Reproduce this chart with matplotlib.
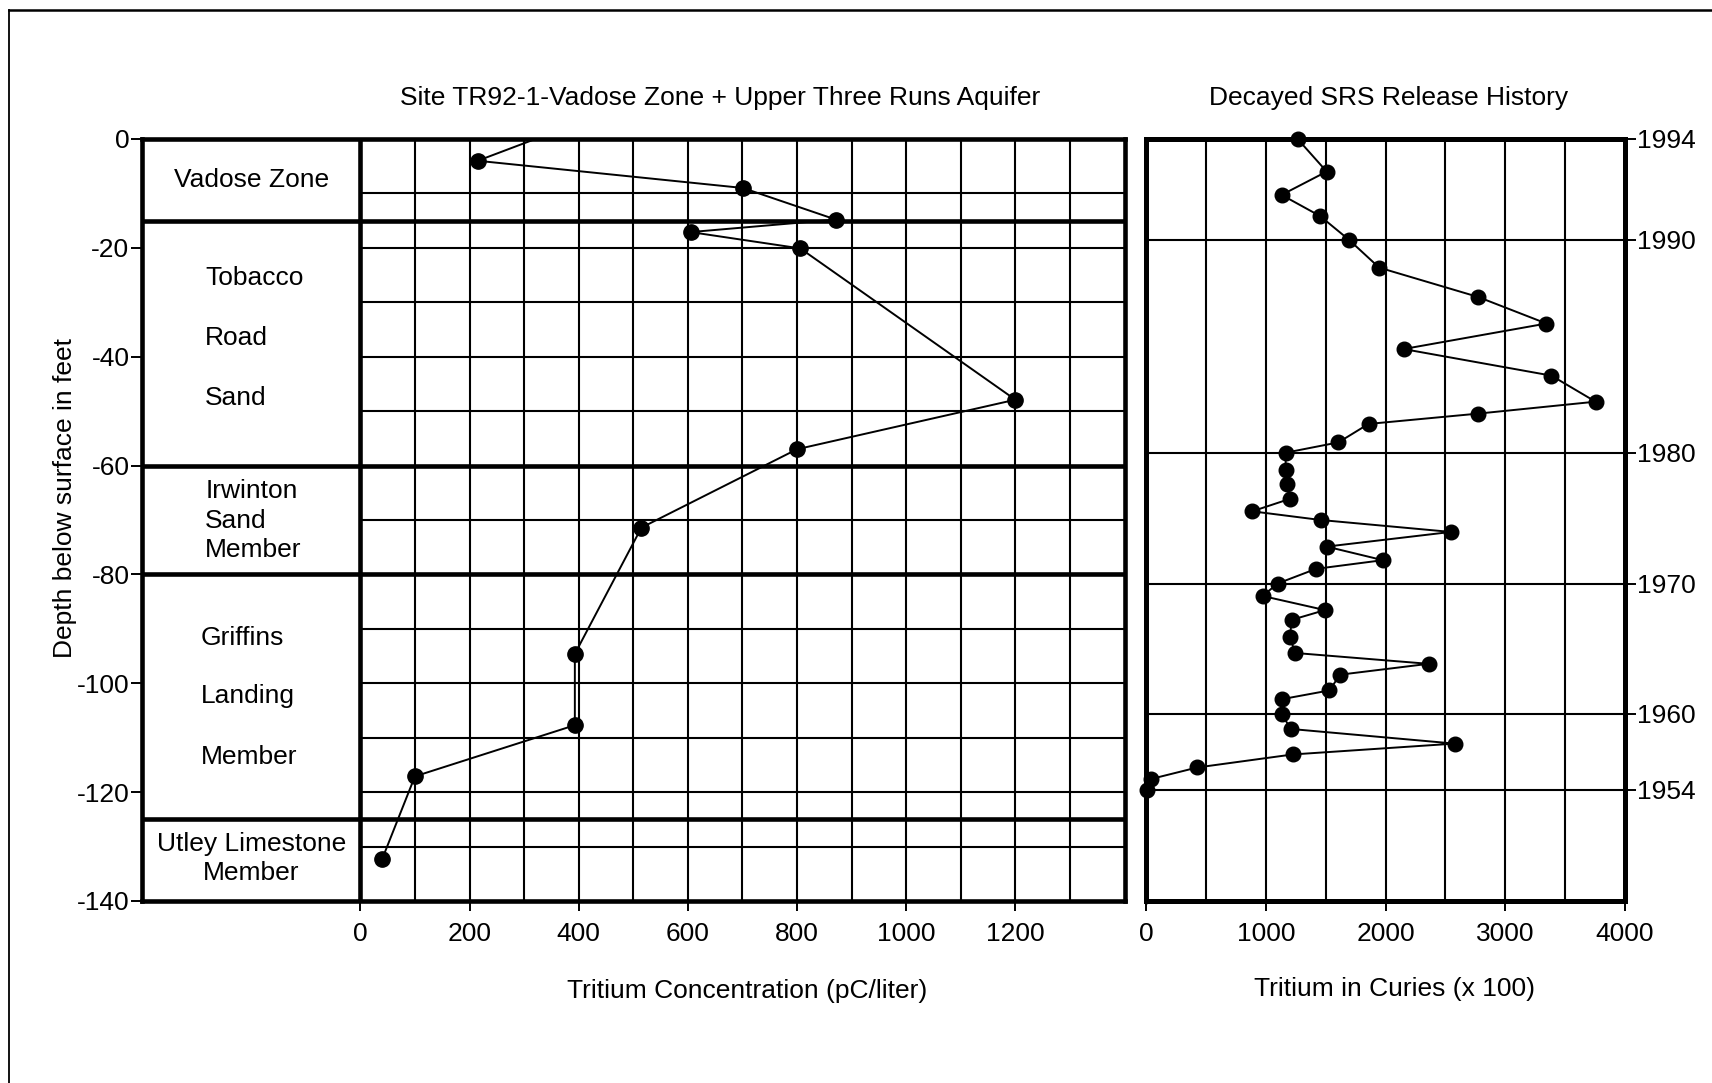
import numpy as np
import matplotlib.pyplot as plt
from matplotlib.lines import Line2D

plt.rcParams['font.family'] = ['Liberation Sans', 'DejaVu Sans']
plt.rcParams['axes.unicode_minus'] = False

#%% data
# site TR92-1 samples (first one lies above ground surface and is clipped)
conc_pc = [400, 215, 701, 871, 605, 806, 1200, 800, 515, 393, 393, 100, 40]
depth_ft = [3, -4.0, -9.0, -14.8, -17.1, -20.1, -47.9, -57.0, -71.4, -94.6, -107.7, -117.1, -132.3]

# formations: top / bottom depth of each unit
unit_tops = [0, -15, -60, -80, -125]
unit_bottoms = [-15, -60, -80, -125, -140]

# decayed SRS release history, one value per year, placed at equivalent depth
years = [1994, 1993, 1992, 1991, 1990, 1989, 1988, 1987, 1986, 1985, 1984, 1983,
         1982, 1981, 1980, 1979, 1978, 1977, 1976, 1975, 1974, 1973, 1972, 1971,
         1970, 1969, 1968, 1967, 1966, 1965, 1964, 1963, 1962, 1961, 1960, 1959,
         1958, 1957, 1956, 1955, 1954]
curies = [1265, 1508, 1131, 1453, 1696, 1947, 2774, 3346, 2151, 3388, 3757, 2774,
          1858, 1606, 1165, 1165, 1173, 1201, 885, 1458, 2547, 1508, 1978, 1419,
          1098, 972, 1494, 1215, 1201, 1243, 2360, 1620, 1531, 1137, 1131, 1207,
          2578, 1223, 425, 42, 8]
year_depth = [0.4, -5.6, -9.9, -13.8, -18.2, -23.3, -28.7, -33.6, -38.3, -43.2,
              -48.0, -50.2, -52.1, -55.5, -57.4, -60.5, -63.1, -65.9, -68.2, -69.8,
              -72.0, -74.7, -77.2, -78.8, -81.5, -83.8, -86.4, -88.2, -91.3, -94.3,
              -96.3, -98.3, -101.2, -102.8, -105.5, -108.3, -111.0, -113.0, -115.4,
              -117.5, -119.5]
year_labels = [1994, 1990, 1980, 1970, 1960, 1954]

#%%
W, H = 1712, 1083
fig = plt.figure(figsize=(W / 100, H / 100), dpi=100)

def box(x0, y0, x1, y1):
    return [x0 / W, 1 - y1 / H, (x1 - x0) / W, (y1 - y0) / H]

FS = 19

# ---------------- left panel: stratigraphy + concentration ----------------
ax = fig.add_axes(box(142, 139, 1124.5, 901))
ax.set_xlim(-400, 1400)
ax.set_ylim(-140, 0)

ax.hlines(np.arange(-10, -140, -10), 0, 1400, color='k', lw=1.5, zorder=1)
ax.vlines(np.arange(100, 1400, 100), -140, 0, color='k', lw=1.5, zorder=1)
for b in unit_bottoms[:-1]:
    ax.plot([-400, 1400], [b, b], color='k', lw=3.3, zorder=3, solid_capstyle='butt')
ax.plot([0, 0], [-140, 0], color='k', lw=3.3, zorder=3)

ax.plot(conc_pc, depth_ft, '-o', color='k', lw=1.4, ms=11, zorder=5)

ax.text(-200, -7.5, 'Vadose Zone', ha='center', va='center', fontsize=FS)
for name, y in zip(['Tobacco', 'Road', 'Sand'], [-25.6, -36.6, -47.5]):
    ax.text(-284, y, name, ha='left', va='center', fontsize=FS)
for name, y in zip(['Irwinton', 'Sand', 'Member'], [-64.7, -70.1, -75.6]):
    ax.text(-284, y, name, ha='left', va='center', fontsize=FS)
for name, y in zip(['Griffins', 'Landing', 'Member'], [-91.6, -102.4, -113.5]):
    ax.text(-292, y, name, ha='left', va='center', fontsize=FS)
ax.text(-200, -129.5, 'Utley Limestone', ha='center', va='center', fontsize=FS)
ax.text(-200, -134.9, 'Member', ha='center', va='center', fontsize=FS)

ax.set_xticks(np.arange(0, 1201, 200))
ax.set_yticks(np.arange(0, -141, -20))
ax.tick_params(axis='x', direction='out', length=7, width=1.4, pad=8, labelsize=FS)
ax.tick_params(axis='y', direction='out', length=8, width=1.4, pad=1, labelsize=FS)
for s in ax.spines.values():
    s.set_linewidth(3.3)
    s.set_zorder(6)

# ---------------- right panel: release history ----------------
ax2 = fig.add_axes(box(1146.4, 139, 1624.6, 901))
ax2.set_xlim(0, 4000)
ax2.set_ylim(-140, 0)

tick_depths = [year_depth[years.index(y)] for y in year_labels]
ax2.vlines(np.arange(500, 4000, 500), -140, 0, color='k', lw=1.5, zorder=1)
ax2.hlines(tick_depths[1:], 0, 4000, color='k', lw=1.5, zorder=1)

ax2.plot(curies + [0], year_depth + [-140.5], '-o', color='k', lw=1.4, ms=10.5,
         markevery=list(range(len(curies))), zorder=5, clip_on=False)

ax2.set_xticks(np.arange(0, 4001, 1000))
ax2.yaxis.tick_right()
ax2.set_yticks(tick_depths)
ax2.set_yticklabels([str(y) for y in year_labels])
ax2.tick_params(axis='x', direction='out', length=7, width=1.4, pad=8, labelsize=FS)
ax2.tick_params(axis='y', direction='out', length=8, width=1.4, pad=1, labelsize=FS)
for s in ax2.spines.values():
    s.set_linewidth(3.6)
    s.set_zorder(6)

# ---------------- titles & labels ----------------
fig.text(720 / W, 1 - 98 / H, 'Site TR92-1-Vadose Zone + Upper Three Runs Aquifer',
         ha='center', va='center', fontsize=FS)
fig.text(1389 / W, 1 - 98 / H, 'Decayed SRS Release History',
         ha='center', va='center', fontsize=FS)
fig.text(747 / W, 1 - 991 / H, 'Tritium Concentration (pC/liter)',
         ha='center', va='center', fontsize=FS)
fig.text(1395 / W, 1 - 989 / H, 'Tritium in Curies (x 100)',
         ha='center', va='center', fontsize=FS)
fig.text(65 / W, 1 - 498 / H, 'Depth below surface in feet', rotation=90,
         ha='center', va='center', fontsize=FS)

# scanned page frame
fig.add_artist(Line2D([9 / W, 9 / W], [0, 1 - 10 / H], color='k', lw=1.3))
fig.add_artist(Line2D([9 / W, 1], [1 - 10 / H, 1 - 10 / H], color='k', lw=1.8))

fig.savefig('out.png', dpi=100)
